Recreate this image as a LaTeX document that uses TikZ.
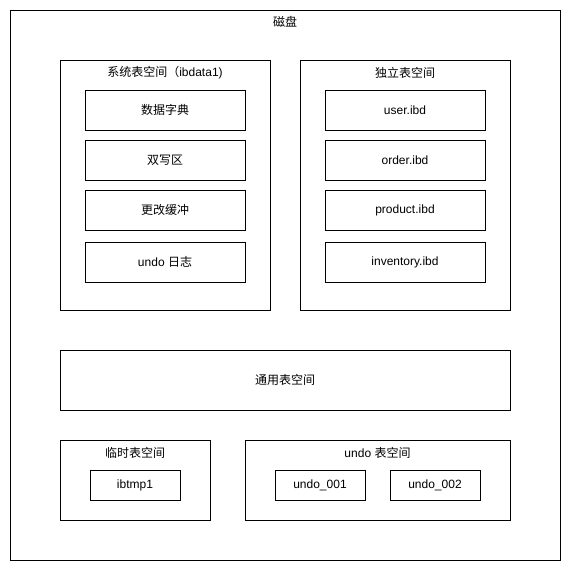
\documentclass[tikz,border=0pt]{standalone}
\usepackage{fontspec}
\setmainfont{Liberation Sans}
\newfontfamily\cjk{Noto Sans CJK SC}
\usetikzlibrary{positioning}

\begin{document}
\begin{tikzpicture}[x=1pt,y=-1pt,font=\fontsize{12}{14}\selectfont,
    box/.style={draw,line width=1pt,inner sep=0pt},
    item/.style={box,minimum width=160pt,minimum height=40pt},
    small/.style={box,minimum width=90pt,minimum height=30pt}]
      \useasboundingbox (0,0) rectangle (571,571);
      % disk
      \node[box,minimum width=550pt,minimum height=550pt] (disk) at (285,285) {};
      \node (diskLabel) at (285,22) {\cjk 磁盘};
      % system tablespace
      \node[box,minimum width=210pt,minimum height=250pt] (sys) at (165,185) {};
      \node (sysLabel) at (165,73) {{\cjk 系统表空间（}ibdata1)};
      \node[item] (dict) at (165,110) {\cjk 数据字典};
      \node[item] (dblwr) at (165,160) {\cjk 双写区};
      \node[item] (chbuf) at (165,210) {\cjk 更改缓冲};
      \node[item] (undolog) at (165,262) {undo {\cjk 日志}};
      % file-per-table
      \node[box,minimum width=210pt,minimum height=250pt] (ind) at (405,185) {};
      \node (indLabel) at (405,73) {\cjk 独立表空间};
      \node[item] (user) at (405,110) {user.ibd};
      \node[item] (order) at (405,160) {order.ibd};
      \node[item] (product) at (405,210) {product.ibd};
      \node[item] (inventory) at (405,262) {inventory.ibd};
      % general
      \node[box,minimum width=450pt,minimum height=60pt] (general) at (285,380) {\cjk 通用表空间};
      % temporary
      \node[box,minimum width=150pt,minimum height=80pt] (temp) at (135,480) {};
      \node (tempLabel) at (135,453) {\cjk 临时表空间};
      \node[small] (ibtmp) at (135,485) {ibtmp1};
      % undo
      \node[box,minimum width=265pt,minimum height=80pt] (undo) at (377.5,480) {};
      \node (undoLabel) at (377.5,453) {undo {\cjk 表空间}};
      \node[small] (undoA) at (320,485) {undo\_001};
      \node[small] (undoB) at (435,485) {undo\_002};
\end{tikzpicture}
\end{document}
